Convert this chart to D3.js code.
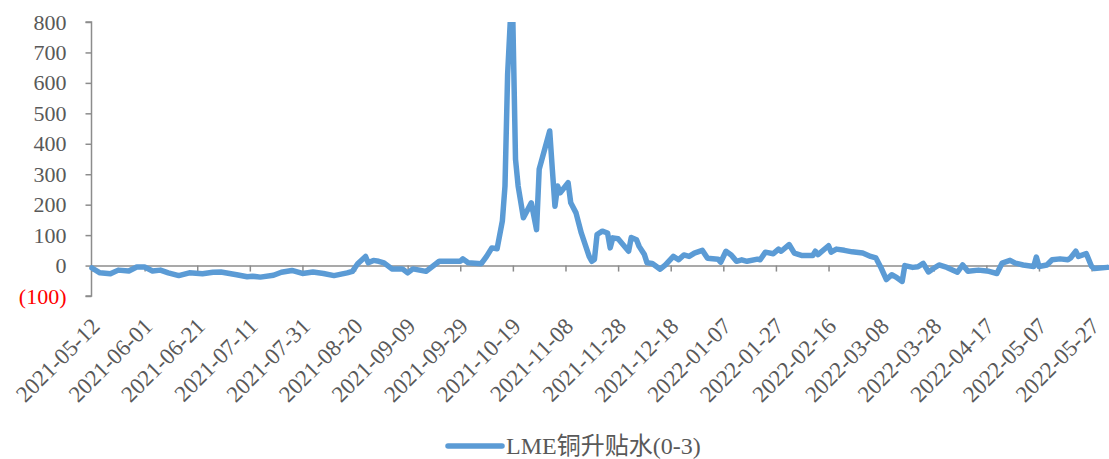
<!DOCTYPE html>
<html>
<head>
<meta charset="utf-8">
<script src="https://cdn.jsdelivr.net/npm/d3@7"></script>
<style>
  body { margin: 0; background: #ffffff; }
  svg { display: block; }
</style>
</head>
<body>
<svg id="chart" width="1109" height="459"></svg>
<script>
// LME copper cash-to-3M spread (USD/t), sampled dates and values
const dates = [
  "2021-05-12","2021-05-15","2021-05-19","2021-05-22","2021-05-26","2021-05-29","2021-06-01","2021-06-04",
  "2021-06-07","2021-06-10","2021-06-14","2021-06-18","2021-06-23","2021-06-27","2021-06-30","2021-07-06",
  "2021-07-10","2021-07-12","2021-07-15","2021-07-20","2021-07-23","2021-07-27","2021-07-31","2021-08-04",
  "2021-08-08","2021-08-12","2021-08-17","2021-08-19","2021-08-21","2021-08-24","2021-08-25","2021-08-27",
  "2021-08-29","2021-08-31","2021-09-03","2021-09-07","2021-09-09","2021-09-11","2021-09-16","2021-09-21",
  "2021-09-24","2021-09-29","2021-09-30","2021-10-02","2021-10-07","2021-10-09","2021-10-11","2021-10-13",
  "2021-10-15","2021-10-16","2021-10-17","2021-10-18","2021-10-19","2021-10-20","2021-10-21","2021-10-23",
  "2021-10-26","2021-10-28","2021-10-29","2021-11-02","2021-11-03","2021-11-04","2021-11-05","2021-11-06",
  "2021-11-09","2021-11-10","2021-11-12","2021-11-14","2021-11-17","2021-11-18","2021-11-19","2021-11-20",
  "2021-11-22","2021-11-24","2021-11-25","2021-11-26","2021-11-28","2021-12-02","2021-12-03","2021-12-05",
  "2021-12-06","2021-12-08","2021-12-09","2021-12-11","2021-12-14","2021-12-16","2021-12-19","2021-12-21",
  "2021-12-23","2021-12-25","2021-12-27","2021-12-30","2022-01-01","2022-01-05","2022-01-06","2022-01-08",
  "2022-01-10","2022-01-12","2022-01-14","2022-01-16","2022-01-20","2022-01-21","2022-01-23","2022-01-26",
  "2022-01-28","2022-01-29","2022-02-01","2022-02-03","2022-02-06","2022-02-10","2022-02-11","2022-02-12",
  "2022-02-16","2022-02-17","2022-02-19","2022-02-22","2022-02-25","2022-03-01","2022-03-04","2022-03-06",
  "2022-03-08","2022-03-10","2022-03-12","2022-03-14","2022-03-16","2022-03-17","2022-03-20","2022-03-22",
  "2022-03-24","2022-03-26","2022-03-28","2022-03-30","2022-04-02","2022-04-06","2022-04-08","2022-04-10",
  "2022-04-14","2022-04-18","2022-04-21","2022-04-23","2022-04-26","2022-04-28","2022-05-01","2022-05-05",
  "2022-05-06","2022-05-07","2022-05-10","2022-05-12","2022-05-15","2022-05-18","2022-05-19","2022-05-21",
  "2022-05-22","2022-05-25","2022-05-27","2022-05-28","2022-06-02"
];
const spread = [
  -8,-24,-27,-15,-18,-5,-5,-18,
  -15,-24,-33,-24,-27,-22,-21,-30,
  -37,-35,-38,-32,-22,-16,-26,-21,
  -26,-33,-24,-19,6,30,9,17,
  14,9,-11,-11,-24,-11,-19,14,
  14,14,22,9,6,30,58,55,
  146,261,628,800,800,349,261,157,
  206,118,316,442,316,195,261,239,
  272,206,173,107,30,14,20,102,
  113,107,58,91,88,47,92,85,
  63,36,9,7,-12,2,30,19,
  35,30,41,50,24,21,11,47,
  35,14,19,14,21,19,44,39,
  54,47,69,41,33,33,47,36,
  65,44,54,50,45,41,30,25,
  -8,-46,-30,-40,-52,0,-6,-4,
  7,-21,-9,2,-6,-22,2,-19,
  -15,-19,-26,8,17,8,2,-3,
  28,-3,2,19,22,19,25,47,
  30,39,-3,-10,-6
];
const yTicks = [-100, 0, 100, 200, 300, 400, 500, 600, 700, 800];
const xTickLabels = [
  "2021-05-12","2021-06-01","2021-06-21","2021-07-11","2021-07-31","2021-08-20","2021-09-09",
  "2021-09-29","2021-10-19","2021-11-08","2021-11-28","2021-12-18","2022-01-07","2022-01-27",
  "2022-02-16","2022-03-08","2022-03-28","2022-04-17","2022-05-07","2022-05-27"
];
const xStart = "2021-05-12";
const xEnd = "2022-06-03";
const seriesName = "LME铜升贴水(0-3)";

const parse = d3.utcParse("%Y-%m-%d");
const fmtDate = d3.utcFormat("%Y-%m-%d");
const data = dates.map((d, i) => ({ date: parse(d), value: spread[i] }));

const FONT = "'Liberation Serif', 'Times New Roman', 'Noto Sans CJK SC', serif";
const TEXT = "#595959";
const AXIS = "#8c8c8c";
const LINE = "#5B9BD5";

const svg = d3.select("#chart");
const plot = { left: 91.5, right: 1110, top: 22, bottom: 296 };

const x = d3.scaleUtc().domain([parse(xStart), parse(xEnd)]).range([92, plot.right]);
const y = d3.scaleLinear().domain([-100, 800]).range([plot.bottom, plot.top]);

// Y axis
const yAxis = svg.append("g")
  .attr("transform", `translate(${plot.left},0)`)
  .call(d3.axisLeft(y).tickValues(yTicks).tickSize(6).tickPadding(19)
    .tickFormat(v => v < 0 ? `(${-v})` : String(v)));
yAxis.select(".domain").attr("stroke", AXIS).attr("stroke-width", 1.5)
  .attr("d", `M-6,${y(800)}H0V${y(-100)}H-6`);
yAxis.selectAll(".tick line").attr("stroke", AXIS).attr("stroke-width", 1.5);
yAxis.selectAll(".tick text")
  .attr("font-family", FONT).attr("font-size", 22)
  .attr("fill", d => d < 0 ? "#ff0000" : TEXT);

// X axis line at zero with ticks
const xTicks = xTickLabels.map(parse);
const xAxis = svg.append("g")
  .attr("transform", `translate(0,${y(0)})`)
  .call(d3.axisBottom(x).tickValues(xTicks).tickSize(6).tickSizeOuter(0).tickFormat(""));
xAxis.select(".domain").attr("stroke", AXIS).attr("stroke-width", 1.5);
xAxis.selectAll(".tick line").attr("stroke", AXIS).attr("stroke-width", 1.5);

// Date labels below the plot area
const xLab = svg.append("g")
  .attr("transform", `translate(0,${plot.bottom})`)
  .call(d3.axisBottom(x).tickValues(xTicks).tickSize(0).tickFormat(fmtDate));
xLab.select(".domain").remove();
xLab.selectAll(".tick text")
  .attr("x", 0).attr("y", 0).attr("dy", "0.35em")
  .attr("transform", "translate(3,26) rotate(-45)")
  .attr("text-anchor", "end")
  .attr("font-family", FONT).attr("font-size", 23).attr("fill", TEXT);

// Series line, clipped to the plot area
svg.append("clipPath").attr("id", "plotClip")
  .append("rect")
  .attr("x", plot.left - 4).attr("y", plot.top)
  .attr("width", plot.right - plot.left + 8).attr("height", plot.bottom - plot.top + 10);

const line = d3.line().x(d => x(d.date)).y(d => y(d.value));
svg.append("path")
  .datum(data)
  .attr("clip-path", "url(#plotClip)")
  .attr("fill", "none")
  .attr("stroke", LINE)
  .attr("stroke-width", 5.5)
  .attr("stroke-linejoin", "round")
  .attr("stroke-linecap", "round")
  .attr("d", line);

// Legend
const legend = svg.append("g").attr("transform", "translate(448,446)");
legend.append("line")
  .attr("x1", 0).attr("x2", 54).attr("y1", 0).attr("y2", 0)
  .attr("stroke", LINE).attr("stroke-width", 5.5).attr("stroke-linecap", "round");
legend.append("text")
  .attr("x", 58).attr("y", 0).attr("dy", "0.35em")
  .attr("font-family", FONT).attr("font-size", 24).attr("fill", TEXT)
  .text(seriesName);
</script>
</body>
</html>
